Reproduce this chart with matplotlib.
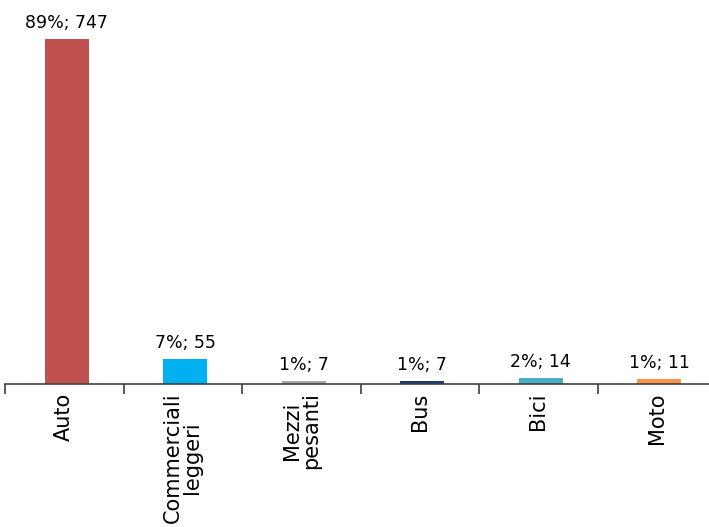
import matplotlib.pyplot as plt
import numpy as np

categories = ['Auto', 'Commerciali\nleggeri', 'Mezzi\npesanti', 'Bus', 'Bici', 'Moto']
counts = [747, 55, 7, 7, 14, 11]
shares = [89, 7, 1, 1, 2, 1]
colors = ['#C0504D', '#00B0F0', '#A6A6A6', '#1F3A7A', '#4BACC6', '#F79646']

fig = plt.figure(figsize=(7.09, 5.27), dpi=100)
ax = fig.add_axes([5 / 709, 143 / 527, 711 / 709, 370 / 527])

x = np.arange(len(categories))
bars = ax.bar(x + 0.02, counts, width=0.37, color=colors)

for b, c, s in zip(bars, counts, shares):
    ax.annotate(f'{s}%; {c}', (b.get_x() + b.get_width() / 2, b.get_height()),
                xytext=(0, 5), textcoords='offset points',
                ha='center', va='bottom', fontsize=12.5)

ax.set_xlim(-0.5, len(categories) - 0.5)
ax.set_ylim(0, 800)
ax.set_xticks(x)
ax.set_xticklabels(categories, rotation=90, fontsize=15, linespacing=0.95, va='top')
ax.tick_params(axis='x', which='major', length=0, pad=6)
ax.set_xticks(np.arange(-0.5, len(categories)), minor=True)
ax.tick_params(axis='x', which='minor', length=7, width=1.2, color='#404040', direction='out')
ax.set_yticks([])
for side in ['top', 'right', 'left']:
    ax.spines[side].set_visible(False)
ax.spines['bottom'].set_color('#404040')
ax.spines['bottom'].set_linewidth(1.2)

fig.savefig('out.png', dpi=100)
